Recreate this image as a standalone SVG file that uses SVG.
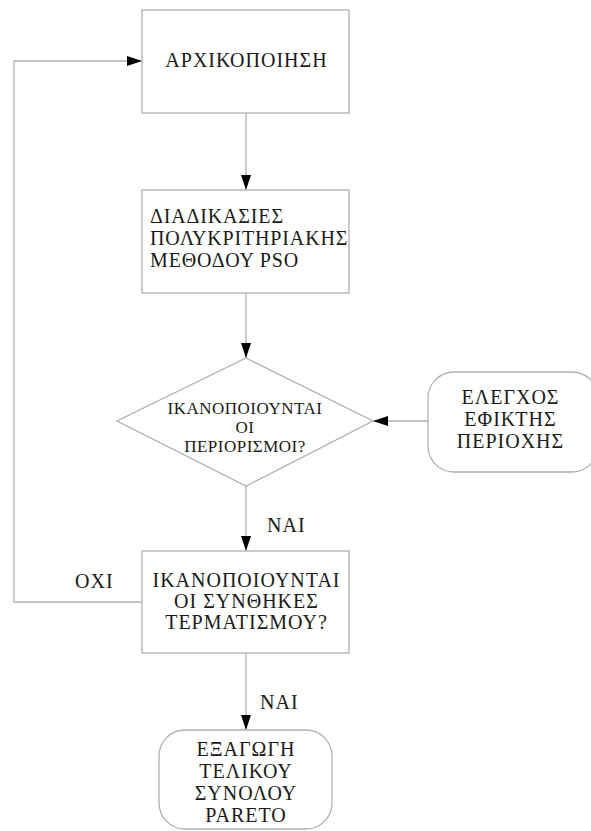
<svg xmlns="http://www.w3.org/2000/svg" width="591" height="831" viewBox="0 0 591 831">
  <style>
    .box { fill: #ffffff; stroke: #b0b0b0; stroke-width: 1.3; }
    .line { fill: none; stroke: #b0b0b0; stroke-width: 1.3; }
    .t { font-family: "Liberation Serif", "DejaVu Serif", serif; font-size: 20px; letter-spacing: 1px; fill: #1a1a1a; }
    .c { text-anchor: middle; }
    .s { font-size: 17px; letter-spacing: 0.5px; }
    .n { letter-spacing: 0.85px; }
  </style>
  <defs>
    <marker id="arrow" viewBox="0 0 15 10" refX="15" refY="5" markerWidth="15" markerHeight="10" markerUnits="userSpaceOnUse" orient="auto">
      <path d="M0,0 L15,5 L0,10 Z" fill="#000000"/>
    </marker>
  </defs>
  <rect width="591" height="831" fill="#ffffff"/>

  <!-- connectors -->
  <g id="connectors">
    <line class="line" x1="246" y1="113" x2="246" y2="190" marker-end="url(#arrow)"/>
    <line class="line" x1="246" y1="293" x2="246" y2="358" marker-end="url(#arrow)"/>
    <line class="line" x1="428" y1="421" x2="373" y2="421" marker-end="url(#arrow)"/>
    <line class="line" x1="246" y1="486" x2="246" y2="551" marker-end="url(#arrow)"/>
    <line class="line" x1="246" y1="653" x2="246" y2="730" marker-end="url(#arrow)"/>
    <polyline class="line" points="142,602 14,602 14,61 142,61" marker-end="url(#arrow)"/>
    <text class="t" x="267" y="532">ΝΑΙ</text>
    <text class="t" x="75" y="588">ΟΧΙ</text>
    <text class="t" x="260" y="709">ΝΑΙ</text>
  </g>

  <!-- initialisation -->
  <g id="init">
    <rect class="box" x="142" y="10" width="207" height="103"/>
    <text class="t c" x="246.5" y="67">ΑΡΧΙΚΟΠΟΙΗΣΗ</text>
  </g>

  <!-- PSO procedures -->
  <g id="pso">
    <rect class="box" x="142" y="190" width="207" height="103"/>
    <text class="t n" x="150" y="223">ΔΙΑΔΙΚΑΣΙΕΣ</text>
    <text class="t n" x="150" y="245">ΠΟΛΥΚΡΙΤΗΡΙΑΚΗΣ</text>
    <text class="t n" x="150" y="267">ΜΕΘΟΔΟΥ PSO</text>
  </g>

  <!-- constraints decision -->
  <g id="constraints">
    <polygon class="box" points="246,358 373,421 246,486 117,421"/>
    <text class="t c s" x="245" y="414">ΙΚΑΝΟΠΟΙΟΥΝΤΑΙ</text>
    <text class="t c s" x="245" y="433">ΟΙ</text>
    <text class="t c s" x="245" y="452">ΠΕΡΙΟΡΙΣΜΟΙ?</text>
  </g>

  <!-- feasible region check -->
  <g id="feasible">
    <rect class="box" x="428" y="372" width="170" height="100" rx="26" ry="26"/>
    <text class="t c" x="510.5" y="404">ΕΛΕΓΧΟΣ</text>
    <text class="t c" x="510.5" y="426">ΕΦΙΚΤΗΣ</text>
    <text class="t c" x="510.5" y="448">ΠΕΡΙΟΧΗΣ</text>
  </g>

  <!-- termination decision -->
  <g id="termination">
    <rect class="box" x="142" y="551" width="207" height="102"/>
    <text class="t c" x="246.5" y="587">ΙΚΑΝΟΠΟΙΟΥΝΤΑΙ</text>
    <text class="t c" x="246.5" y="608">ΟΙ ΣΥΝΘΗΚΕΣ</text>
    <text class="t c" x="246.5" y="629">ΤΕΡΜΑΤΙΣΜΟΥ?</text>
  </g>

  <!-- Pareto output -->
  <g id="pareto">
    <rect class="box" x="159" y="730" width="173" height="99" rx="26" ry="26"/>
    <text class="t c" x="246" y="756">ΕΞΑΓΩΓΗ</text>
    <text class="t c" x="246" y="778">ΤΕΛΙΚΟΥ</text>
    <text class="t c" x="246" y="800">ΣΥΝΟΛΟΥ</text>
    <text class="t c" x="246" y="822">PARETO</text>
  </g>
</svg>
